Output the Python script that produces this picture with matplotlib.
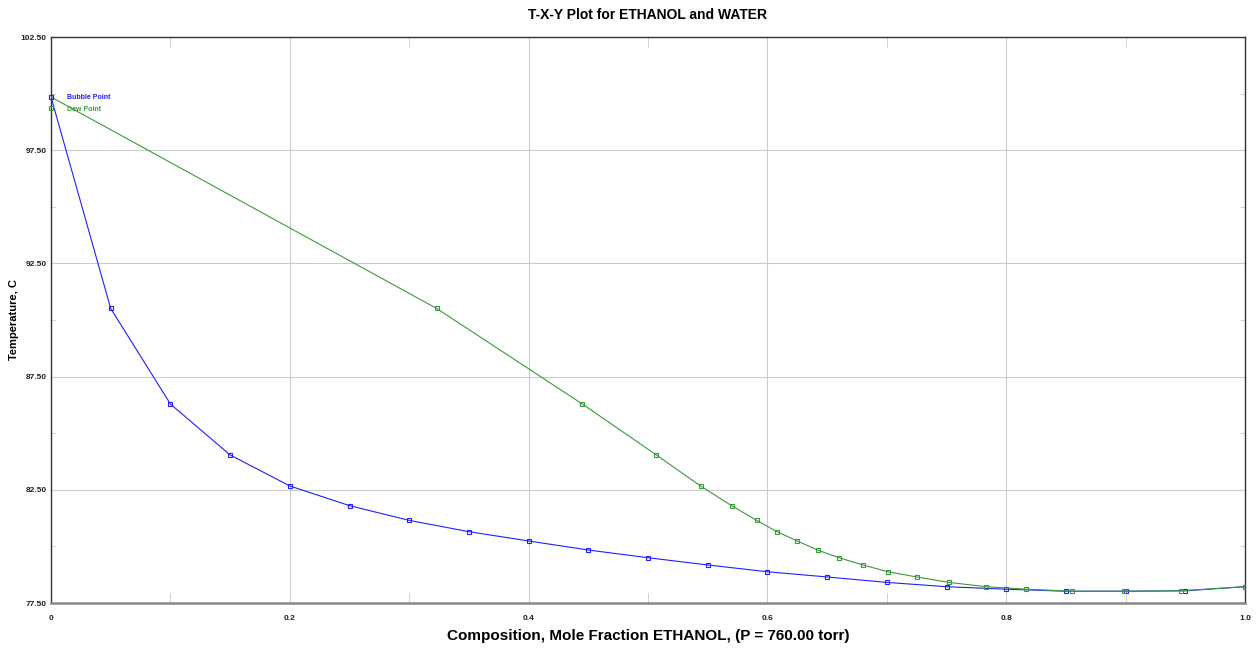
import numpy as np
import matplotlib.pyplot as plt
from matplotlib.ticker import FixedLocator, FuncFormatter
from matplotlib.lines import Line2D

plt.rcParams['font.family'] = ['Liberation Sans', 'DejaVu Sans']

# liquid composition (bubble point) and vapour composition (dew point), mole fraction ethanol
x_liquid = [0.0, 0.05, 0.10, 0.15, 0.20, 0.25, 0.30, 0.35, 0.40, 0.45, 0.50,
            0.55, 0.60, 0.65, 0.70, 0.75, 0.80, 0.85, 0.90, 0.95, 1.0]
y_vapour = [0.0, 0.323, 0.445, 0.507, 0.544, 0.570, 0.591, 0.608, 0.625, 0.642, 0.660,
            0.680, 0.701, 0.725, 0.752, 0.783, 0.817, 0.855, 0.899, 0.946, 1.0]
# temperature, C
temps = [99.85, 90.51, 86.29, 84.04, 82.67, 81.80, 81.15, 80.65, 80.24, 79.84, 79.50,
         79.18, 78.88, 78.65, 78.41, 78.22, 78.11, 78.02, 78.02, 78.04, 78.22]

blue = '#2020ff'
green = '#3c9a3c'

fig = plt.figure(figsize=(12.59, 6.53), dpi=100)
ax = fig.add_axes([51/1259, 1 - 603/653, (1245 - 51)/1259, (603 - 37)/653])

ax.plot(x_liquid, temps, color=blue, lw=0.8, marker='s', ms=3.2, mfc='none', mew=0.8, zorder=3)
ax.plot(y_vapour, temps, color=green, lw=0.8, marker='s', ms=3.2, mfc='none', mew=0.8, zorder=4)

ax.set_xlim(0, 1.0)
ax.set_ylim(77.5, 102.5)

ax.xaxis.set_major_locator(FixedLocator([0, 0.2, 0.4, 0.6, 0.8, 1.0]))
ax.xaxis.set_minor_locator(FixedLocator([0.1, 0.3, 0.5, 0.7, 0.9]))
ax.yaxis.set_major_locator(FixedLocator([77.5, 82.5, 87.5, 92.5, 97.5, 102.5]))
ax.yaxis.set_minor_locator(FixedLocator([80, 85, 90, 95, 100]))
ax.xaxis.set_major_formatter(FuncFormatter(lambda v, p: '0' if v == 0 else f'{v:.1f}'))
ax.yaxis.set_major_formatter(FuncFormatter(lambda v, p: f'{v:.2f}'))

ax.tick_params(which='major', length=0, labelsize=6, labelcolor='#222222')
ax.tick_params(axis='x', which='major', pad=9)
ax.tick_params(axis='y', which='major', pad=3)
ax.tick_params(axis='x', which='minor', direction='in', length=7, color='#cccccc', top=True, bottom=True)
ax.tick_params(axis='y', which='minor', direction='in', length=3.5, color='#cccccc', left=True, right=True)
for lab in ax.get_xticklabels() + ax.get_yticklabels():
    lab.set_fontweight('bold')

ax.grid(True, which='major', color='#cccccc', lw=0.8)
ax.set_axisbelow(True)
for side in ['left', 'top', 'right']:
    ax.spines[side].set_color('#333333')
    ax.spines[side].set_linewidth(1.0)
ax.spines['bottom'].set_color('#888888')
ax.spines['bottom'].set_linewidth(1.8)

fig.text(648/1259, 1 - 15/653, 'T-X-Y Plot for ETHANOL and WATER', ha='center', va='center',
         fontsize=10, fontweight='bold')
ax.set_xlabel('Composition, Mole Fraction ETHANOL, (P = 760.00 torr)', fontsize=11,
              fontweight='bold')
ax.xaxis.set_label_coords(0.5, -(636 - 603) / 566)
ax.xaxis.label.set_va('center')
ax.set_ylabel('Temperature, C', fontsize=8, fontweight='bold')
ax.yaxis.set_label_coords(-(51 - 14) / 1194, 0.5)
ax.yaxis.label.set_va('center')

handles = [Line2D([], [], color=blue, ls='none', marker='s', ms=3.2, mfc='none', mew=0.8),
           Line2D([], [], color=green, ls='none', marker='s', ms=3.2, mfc='none', mew=0.8)]
leg = ax.legend(handles, ['Bubble Point', 'Dew Point'], loc='upper left',
                bbox_to_anchor=(-0.0015, (603 - 94) / 566), frameon=False,
                handlelength=0.6, handletextpad=1.9, borderpad=0, borderaxespad=0,
                labelspacing=0.65, prop={'weight': 'bold', 'size': 5})
for txt, c in zip(leg.get_texts(), [blue, green]):
    txt.set_color(c)

fig.savefig('out.png', dpi=100)
